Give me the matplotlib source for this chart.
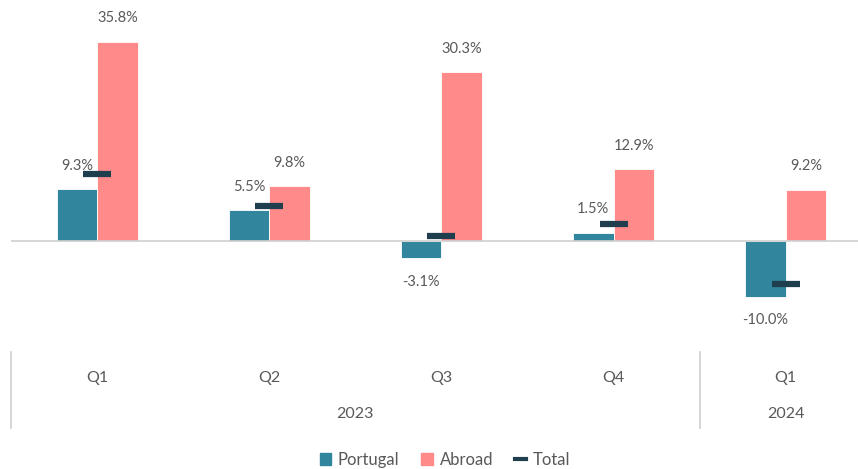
import numpy as np
import matplotlib
matplotlib.use("agg")
import matplotlib.pyplot as plt
from matplotlib.lines import Line2D
from matplotlib.patches import Patch

quarters = ["Q1", "Q2", "Q3", "Q4", "Q1"]
years = ["2023", "2024"]
year_span = [4, 1]
portugal = [9.3, 5.5, -3.1, 1.5, -10.0]
abroad = [35.8, 9.8, 30.3, 12.9, 9.2]
total = [12.0, 6.3, 0.9, 3.1, -7.7]

c_pt = "#31859C"
c_ab = "#FF8A8A"
c_tot = "#1F3F4E"
c_txt = "#595959"
plt.rcParams["font.family"] = ["Lato", "DejaVu Sans"]

fig = plt.figure(figsize=(8.58, 4.69), dpi=100)
ax = fig.add_axes([11/858, 129/469, 1 - 11/858, 330/469])

x = np.arange(len(quarters))
w = 0.235
ax.bar(x - w/2, portugal, w, color=c_pt, edgecolor="white", linewidth=0.6)
ax.bar(x + w/2, abroad, w, color=c_ab, edgecolor="white", linewidth=0.6)
ax.plot(x, total, ls="none", marker="_", ms=20, mew=4.5, color=c_tot)

for i in range(len(x)):
    for xv, v in ((x[i] - w/2, portugal[i]), (x[i] + w/2, abroad[i])):
        off = 4.2 if v >= 0 else -4.2
        ax.text(xv, v + off, f"{v:.1f}%", ha="center", va="center",
                fontsize=10.5, color=c_txt)

ax.axhline(0, color="#D0D0D0", lw=1.2)
ax.set_xlim(-0.5, 4.42)
ax.set_ylim(-17.8, 41.5)
ax.axis("off")

# two-level category axis below the plot
tr = ax.get_xaxis_transform()
for i, q in enumerate(quarters):
    ax.text(x[i], -0.115, q, transform=tr, ha="center", va="center",
            fontsize=11.5, color=c_txt)
start = 0
for yr, n in zip(years, year_span):
    ax.text(start + (n - 1) / 2, -0.224, yr, transform=tr, ha="center",
            va="center", fontsize=11.5, color=c_txt)
    ax.plot([start - 0.5, start - 0.5], [-0.036, -0.267], transform=tr,
            color="#D0D0D0", lw=1.2, clip_on=False)
    start += n

handles = [Patch(color=c_pt), Patch(color=c_ab),
           Line2D([], [], color=c_tot, lw=3)]
fig.legend(handles, ["Portugal", "Abroad", "Total"], loc="center",
           bbox_to_anchor=(445/858, 1 - 460/469), ncol=3, frameon=False,
           fontsize=12, labelcolor=c_txt, handlelength=0.7, handleheight=0.7,
           handletextpad=0.4, columnspacing=1.3)

fig.savefig("out.png", dpi=100)
